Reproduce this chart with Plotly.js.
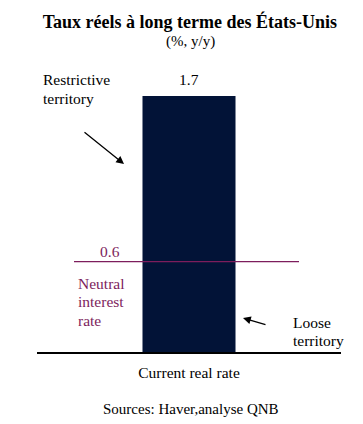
<!DOCTYPE html>
<html><head><meta charset="utf-8">
<script src="https://cdn.plot.ly/plotly-3.0.1.min.js"></script>
<style>html,body{margin:0;padding:0;background:#fff}#chart{width:363px;height:424px}</style>
</head><body><div id="chart"></div>
<script>
const categories = ["Current real rate"];
const realRate = [1.7];
const neutralRate = 0.6;
const titleText = "Taux réels à long terme des États-Unis";
const subtitleText = "(%, y/y)";
const sourceText = "Sources: Haver,analyse QNB";
const restrictiveLines = ["Restrictive", "territory"];
const neutralLines = ["Neutral", "interest", "rate"];
const looseLines = ["Loose", "territory"];

const serif = "Liberation Serif, Times New Roman, serif";
const purple = "#7d1d5c";
const fs = 15.5;
// pixel helpers for the plot area (top 80, baseline 352, left 37, width 304)
const px = v => (v - 37) / 304;
const py = v => (352 - v) / 272;

function lines(arr, x, yFirst, step, color) {
  return arr.map((t, i) => ({
    xref: "paper", yref: "paper", x: px(x), y: py(yFirst + i * step), text: t,
    showarrow: false, xanchor: "left", yanchor: "middle",
    font: {size: fs, color: color || "#000"}
  }));
}

const data = [{
  type: "bar", x: categories, y: realRate, width: 0.306,
  marker: {color: "#021337"}, hoverinfo: "none"
}];

const layout = {
  width: 363, height: 424,
  margin: {l: 37, r: 22, t: 80, b: 72},
  paper_bgcolor: "#fff", plot_bgcolor: "#fff",
  showlegend: false,
  font: {family: serif, color: "#000", size: fs},
  title: {text: "<b>" + titleText + "</b>", font: {family: serif, size: 18, color: "#000"},
          x: 0.523, xanchor: "center", y: 1 - 22/424, yanchor: "middle", yref: "container"},
  xaxis: {type: "category", range: [-0.5, 0.5], showgrid: false, zeroline: false,
          showline: true, linecolor: "#000", linewidth: 1.5,
          ticks: "outside", ticklen: 6, tickcolor: "rgba(0,0,0,0)",
          tickfont: {family: serif, size: fs, color: "#000"}},
  yaxis: {range: [0, 1.806], visible: false, showgrid: false, zeroline: false},
  shapes: [{type: "line", xref: "paper", yref: "y", x0: px(74), x1: px(299),
            y0: neutralRate, y1: neutralRate, line: {color: purple, width: 1.2}}],
  annotations: [
    {xref: "paper", yref: "paper", x: px(190), y: py(41), text: subtitleText,
     showarrow: false, font: {size: 15}, xanchor: "center", yanchor: "middle"},
    {x: categories[0], y: realRate[0], text: String(realRate[0]), showarrow: false,
     yanchor: "bottom", yshift: 6, font: {size: fs}},
    ...lines(restrictiveLines, 41, 79, 19),
    {xref: "paper", yref: "paper", x: px(124), y: py(164), axref: "pixel", ayref: "pixel",
     ax: -41, ay: -33, text: "", showarrow: true, arrowhead: 2, arrowsize: 1.2, arrowwidth: 1.3, arrowcolor: "#000"},
    {xref: "paper", yref: "y", x: px(98), y: neutralRate, text: String(neutralRate),
     showarrow: false, yanchor: "bottom", yshift: 0, font: {size: fs, color: purple}},
    ...lines(neutralLines, 76, 283, 18.5, purple),
    {xref: "paper", yref: "paper", x: px(243), y: py(318), axref: "pixel", ayref: "pixel",
     ax: 24, ay: 7, text: "", showarrow: true, arrowhead: 2, arrowsize: 1.2, arrowwidth: 1.3, arrowcolor: "#000"},
    ...lines(looseLines, 291, 322, 18.5),
    {xref: "paper", yref: "paper", x: px(191), y: py(409), text: sourceText,
     showarrow: false, font: {size: 15}, xanchor: "center", yanchor: "middle"}
  ]
};

Plotly.newPlot("chart", data, layout, {staticPlot: true, displayModeBar: false});
</script></body></html>
